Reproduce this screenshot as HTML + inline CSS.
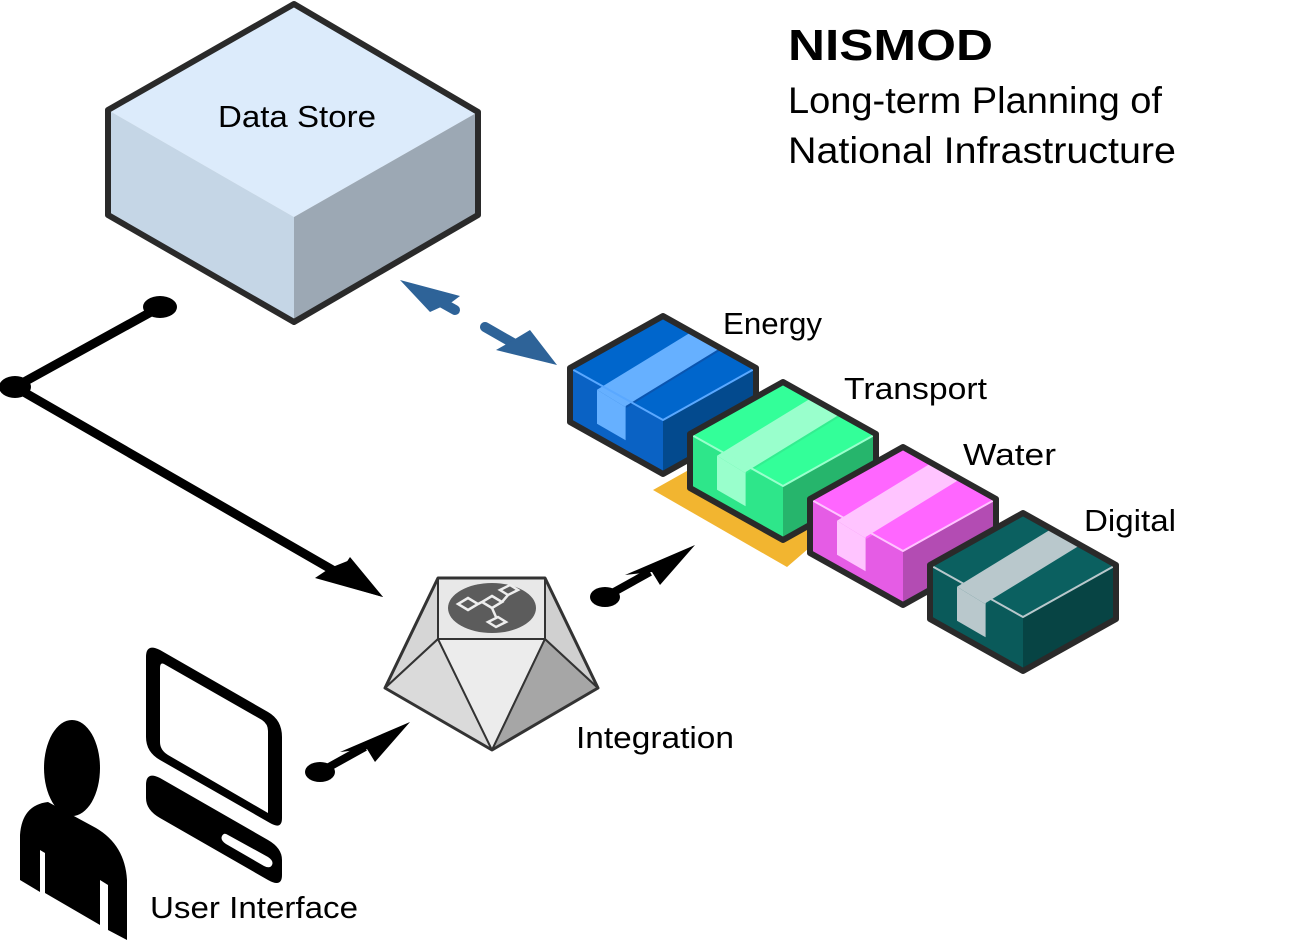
<!DOCTYPE html>
<html><head><meta charset="utf-8"><style>
html,body{margin:0;padding:0;background:#fff;}
svg{display:block;}
text{font-family:"Liberation Sans",sans-serif;fill:#000;}
</style></head><body>
<svg width="1290" height="942" viewBox="0 0 1290 942" xmlns="http://www.w3.org/2000/svg">
<defs>
<g id="tape">
  <polygon points="-60,67 -34,83 51,31 25,15" />
  <polygon points="-60,67 -34,83 -34,113 -60,98" />
</g>
</defs>
<!-- Data store cube -->
<g stroke="#2a2a2a" stroke-width="6" stroke-linejoin="round">
  <polygon points="294,4 478,112 294,217 108,110" fill="#dcebfb" stroke="none"/>
  <polygon points="108,110 294,217 294,322 108,215" fill="#c5d6e6" stroke="none"/>
  <polygon points="294,217 478,112 478,215 294,322" fill="#9ca8b4" stroke="none"/>
  <polygon points="294,4 478,112 478,215 294,322 108,215 108,110" fill="none"/>
</g>
<text x="218" y="127" font-size="31" textLength="158" lengthAdjust="spacingAndGlyphs">Data Store</text>

<!-- Title -->
<text x="788" y="60" font-size="44" font-weight="bold" textLength="205" lengthAdjust="spacingAndGlyphs">NISMOD</text>
<text x="788" y="113" font-size="37" textLength="374" lengthAdjust="spacingAndGlyphs">Long-term Planning of</text>
<text x="788" y="163" font-size="37" textLength="388" lengthAdjust="spacingAndGlyphs">National Infrastructure</text>

<!-- black connector -->
<g stroke="#000" stroke-width="9" fill="none" stroke-linejoin="round">
  <polyline points="160,307 15,387 350,580"/>
</g>
<ellipse cx="160" cy="307" rx="17" ry="11" fill="#000"/>
<ellipse cx="15" cy="387" rx="16" ry="11" fill="#000"/>
<polygon points="383,597 315,578 330,568 350,560" fill="#000"/>
<polygon points="383,597 350,557 340,572 318,578" fill="#000"/>

<!-- blue dashed double arrow -->
<g fill="#2e6398" stroke="#2e6398">
  <polygon points="400,280 460,296 452,302 430,312" stroke="none"/>
  <line x1="430" y1="296" x2="455" y2="310" stroke-width="10" stroke-linecap="round"/>
  <line x1="485" y1="327" x2="520" y2="347" stroke-width="10" stroke-linecap="round"/>
  <polygon points="557,365 496,350 510,342 530,330" stroke="none"/>
</g>

<!-- Yellow base -->
<polygon points="653,490 710,458 830,530 787,567" fill="#f2b530"/>

<!-- Boxes -->
<g stroke-linejoin="round">
 <g transform="translate(663,316)">
  <polygon points="0,0 93,52 0,104 -93,52" fill="#0066cc"/>
  <polygon points="-93,52 0,104 0,158 -93,106" fill="#0a62c4"/>
  <polygon points="0,104 93,52 93,106 0,158" fill="#034a8e"/>
  <use href="#tape" fill="#66b0ff" transform="scale(1.1)"/>
  <line x1="-37" y1="91" x2="56" y2="34" stroke="#0a55b0" stroke-width="2"/>
  <polyline points="-93,52 0,104 93,52 M0,104 0,158" fill="none" stroke="#5aa8ff" stroke-width="2"/>
  <polygon points="0,0 93,52 93,106 0,158 -93,106 -93,52" fill="none" stroke="#2a2a2a" stroke-width="6"/>
 </g>
 <g transform="translate(783,382)">
  <polygon points="0,0 93,52 0,104 -93,52" fill="#33ff99"/>
  <polygon points="-93,52 0,104 0,158 -93,106" fill="#2ee68a"/>
  <polygon points="0,104 93,52 93,106 0,158" fill="#26b56c"/>
  <use href="#tape" fill="#99ffcc" transform="scale(1.1)"/>
  <line x1="-37" y1="91" x2="56" y2="34" stroke="#33ee90" stroke-width="2"/>
  <polyline points="-93,52 0,104 93,52 M0,104 0,158" fill="none" stroke="#99ffcc" stroke-width="2"/>
  <polygon points="0,0 93,52 93,106 0,158 -93,106 -93,52" fill="none" stroke="#2a2a2a" stroke-width="6"/>
 </g>
 <g transform="translate(903,447)">
  <polygon points="0,0 93,52 0,104 -93,52" fill="#ff66ff"/>
  <polygon points="-93,52 0,104 0,158 -93,106" fill="#e55ce5"/>
  <polygon points="0,104 93,52 93,106 0,158" fill="#b34cb3"/>
  <use href="#tape" fill="#ffc4ff" transform="scale(1.1)"/>
  <line x1="-37" y1="91" x2="56" y2="34" stroke="#ff66ff" stroke-width="2"/>
  <polyline points="-93,52 0,104 93,52 M0,104 0,158" fill="none" stroke="#ffc4ff" stroke-width="2"/>
  <polygon points="0,0 93,52 93,106 0,158 -93,106 -93,52" fill="none" stroke="#2a2a2a" stroke-width="6"/>
 </g>
 <g transform="translate(1023,513)">
  <polygon points="0,0 93,52 0,104 -93,52" fill="#0b6060"/>
  <polygon points="-93,52 0,104 0,158 -93,106" fill="#0a5a5a"/>
  <polygon points="0,104 93,52 93,106 0,158" fill="#074444"/>
  <use href="#tape" fill="#b9c8cc" transform="scale(1.1)"/>
  <line x1="-37" y1="91" x2="56" y2="34" stroke="#0b6060" stroke-width="2"/>
  <polyline points="-93,52 0,104 93,52 M0,104 0,158" fill="none" stroke="#b9c8cc" stroke-width="2"/>
  <polygon points="0,0 93,52 93,106 0,158 -93,106 -93,52" fill="none" stroke="#2a2a2a" stroke-width="6"/>
 </g>
</g>
<text x="723" y="334" font-size="31" textLength="99" lengthAdjust="spacingAndGlyphs">Energy</text>
<text x="844" y="399" font-size="31" textLength="143" lengthAdjust="spacingAndGlyphs">Transport</text>
<text x="963" y="465" font-size="31" textLength="93" lengthAdjust="spacingAndGlyphs">Water</text>
<text x="1084" y="531" font-size="31" textLength="92" lengthAdjust="spacingAndGlyphs">Digital</text>

<!-- arrows -->
<line x1="605" y1="597" x2="650" y2="572" stroke="#000" stroke-width="8"/>
<ellipse cx="605" cy="597" rx="15" ry="10" fill="#000"/>
<polygon points="695,545 660,585 652,572 625,575" fill="#000"/>
<line x1="320" y1="772" x2="365" y2="747" stroke="#000" stroke-width="8"/>
<ellipse cx="320" cy="772" rx="15" ry="10" fill="#000"/>
<polygon points="410,722 375,762 367,749 340,752" fill="#000"/>

<!-- Integration -->
<g stroke="#333" stroke-width="2" stroke-linejoin="round">
  <polygon points="438,578 385,688 438,639" fill="#d6d6d6"/>
  <polygon points="385,688 438,639 492,750" fill="#dadada"/>
  <polygon points="438,639 545,639 492,750" fill="#ececec"/>
  <polygon points="545,639 598,688 492,750" fill="#a6a6a6"/>
  <polygon points="545,578 598,688 545,639" fill="#d0d0d0"/>
  <rect x="438" y="578" width="107" height="61" fill="#e8e8e8"/>
  <polygon points="438,578 545,578 598,688 492,750 385,688" fill="none" stroke-width="3"/>
</g>
<ellipse cx="492" cy="608" rx="44" ry="25" fill="#5c5c5c"/>
<g fill="none" stroke="#eee" stroke-width="2.5">
  <polygon points="468,598 478,604 468,610 458,604"/>
  <polygon points="492,596 502,602 492,608 482,602"/>
  <polygon points="500,590 510,585 518,590 508,595"/>
  <polygon points="488,622 498,617 506,622 496,627"/>
  <line x1="478" y1="604" x2="482" y2="602"/><line x1="502" y1="602" x2="508" y2="595"/><line x1="492" y1="608" x2="496" y2="617"/>
</g>
<text x="576" y="748" font-size="31" textLength="158" lengthAdjust="spacingAndGlyphs">Integration</text>

<!-- Person -->
<ellipse cx="72" cy="768" rx="28" ry="48" fill="#000"/>
<path d="M20,835 Q22,805 48,802 L96,828 Q125,845 127,880 L127,940 L108,930 L108,885 L100,880 L100,925 L45,893 L45,853 L40,850 L40,892 L20,880 Z" fill="#000"/>
<!-- Monitor -->
<path d="M160,650 L268,712 Q282,720 282,737 L282,818 Q282,830 270,823 L160,760 Q146,752 146,737 L146,657 Q146,643 160,650 Z" fill="#000"/>
<path d="M164,664 L262,720 Q268,724 268,731 L268,813 L168,755 Q160,750 160,742 L160,668 Q160,662 164,664 Z" fill="#fff"/>
<path d="M160,778 L268,840 Q282,848 282,860 L282,875 Q282,888 268,880 L160,818 Q146,810 146,798 L146,785 Q146,771 160,778 Z" fill="#000"/>
<path d="M228,835 L268,857 Q274,861 272,865 Q270,869 264,866 L226,844 Q220,840 222,836 Q224,832 228,835 Z" fill="#fff"/>
<text x="150" y="918" font-size="31" textLength="208" lengthAdjust="spacingAndGlyphs">User Interface</text>
</svg>
</body></html>
